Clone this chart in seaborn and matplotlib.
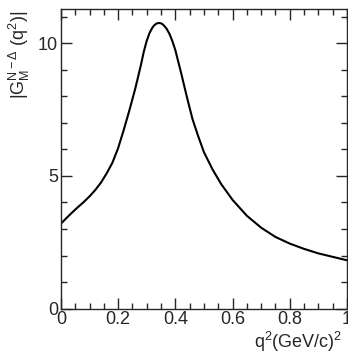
import numpy as np
import pandas as pd
import seaborn as sns
import matplotlib.pyplot as plt
from matplotlib.ticker import MultipleLocator

# curve values
q2 = [0.00, 0.02, 0.04, 0.06, 0.08, 0.10, 0.12, 0.14, 0.16, 0.18, 0.20, 0.22,
      0.24, 0.26, 0.28, 0.29, 0.30, 0.31, 0.32, 0.325, 0.33, 0.335, 0.34, 0.345,
      0.35, 0.355, 0.36, 0.37, 0.38, 0.39, 0.40, 0.42, 0.44, 0.46, 0.48, 0.50,
      0.53, 0.56, 0.60, 0.65, 0.70, 0.75, 0.80, 0.85, 0.90, 0.95, 1.00]
gm = [3.20, 3.42, 3.63, 3.83, 4.02, 4.23, 4.47, 4.75, 5.10, 5.50, 6.05, 6.75,
      7.50, 8.30, 9.20, 9.70, 10.10, 10.40, 10.60, 10.67, 10.72, 10.755, 10.77, 10.77,
      10.76, 10.73, 10.68, 10.55, 10.35, 10.08, 9.75, 8.90, 8.00, 7.15, 6.50, 5.90,
      5.25, 4.70, 4.10, 3.50, 3.05, 2.70, 2.45, 2.25, 2.08, 1.95, 1.82]

df = pd.DataFrame({'q2': q2, 'gm': gm})

sns.set_style('ticks')
plt.rcParams['font.family'] = ['Liberation Sans', 'DejaVu Sans']
plt.rcParams['mathtext.fontset'] = 'custom'
plt.rcParams['mathtext.rm'] = 'Liberation Sans'
plt.rcParams['mathtext.it'] = 'Liberation Sans'

fig = plt.figure(figsize=(3.48, 3.54), dpi=100)
ax = fig.add_axes([0.175, 0.1285, 0.822, 0.846])

sns.lineplot(x='q2', y='gm', data=df, ax=ax, color='black', linewidth=1.5)

ax.set_xlim(0, 1)
ax.set_ylim(0, 11.3)
ax.xaxis.set_major_locator(MultipleLocator(0.2))
ax.xaxis.set_minor_locator(MultipleLocator(0.05))
ax.yaxis.set_major_locator(MultipleLocator(5))
ax.yaxis.set_minor_locator(MultipleLocator(1))
ax.set_xticks([0, 0.2, 0.4, 0.6, 0.8, 1])
ax.set_xticklabels(['0', '0.2', '0.4', '0.6', '0.8', '1'])
ax.tick_params(which='both', direction='in', top=True, right=True, labelsize=13, width=1)
ax.tick_params(which='major', length=8)
ax.tick_params(which='minor', length=4)
ax.tick_params(axis='x', pad=2)
ax.tick_params(axis='y', pad=2)
for s in ax.spines.values():
    s.set_linewidth(1)

ax.set_xlabel(r'q$^2$(GeV/c)$^2$', fontsize=13, ha='right', va='top')
ax.xaxis.set_label_coords(0.985, -0.072, transform=ax.transAxes)
ax.set_ylabel(r'|G$_M^{N-\Delta}$ (q$^2$)|', fontsize=13, ha='right', va='center')
ax.yaxis.set_label_coords(-0.145, 0.995, transform=ax.transAxes)

fig.savefig('out.png', dpi=100)
